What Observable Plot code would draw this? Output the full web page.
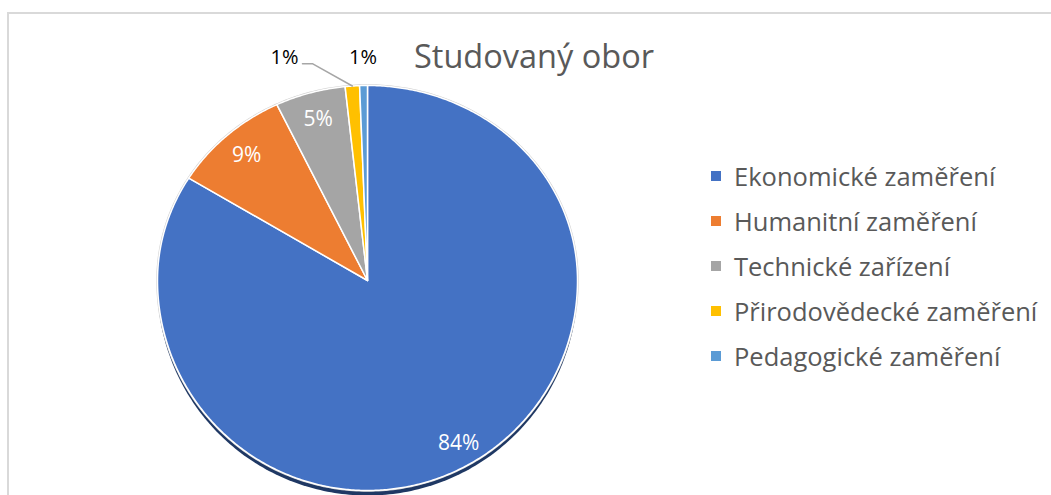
<!DOCTYPE html>
<html><head><meta charset="utf-8">
<script src="https://cdn.jsdelivr.net/npm/d3@7"></script>
<script src="https://cdn.jsdelivr.net/npm/@observablehq/plot@0.6"></script>
<style>
body{margin:0;background:#fff;overflow:hidden;font-family:"Open Sans",sans-serif;}
#wrap{position:relative;width:1051px;height:495px;overflow:hidden;}
#frame{position:absolute;left:7px;top:12px;width:1100px;height:600px;border:2px solid #d9d9d9;box-sizing:border-box;}
#title{position:absolute;left:414px;top:40px;font-size:32.5px;line-height:1;color:#595959;white-space:nowrap;}
#legend{position:absolute;left:711px;top:153px;}
.row{height:45px;display:flex;align-items:center;font-size:25.5px;color:#595959;white-space:nowrap;}
.sw{width:10px;height:10px;margin-right:13px;flex:none;}
#chart{position:absolute;left:0;top:0;width:1051px;height:495px;}
#chart svg{max-width:none;}
</style></head>
<body>
<div id="wrap">
  <div id="frame"></div>
  <div id="chart"></div>
  <div id="title">Studovaný obor</div>
  <div id="legend"></div>
</div>
<script>
const categories = ["Ekonomické zaměření","Humanitní zaměření","Technické zařízení","Přirodovědecké zaměření","Pedagogické zaměření"];
const shares = [83.8, 9.1, 5.4, 1.1, 0.6];
const colors = ["#4472C4","#ED7D31","#A5A5A5","#FFC000","#5B9BD5"];
const titleText = "Studovaný obor";

const total = d3.sum(shares);
const toRad = Math.PI / 180;
const polar = (deg, r) => ({x: Math.sin(deg * toRad) * r, y: Math.cos(deg * toRad) * r});

// slices
const slicePts = [];
const slices = [];
let acc = 0;
shares.forEach((v, i) => {
  const a0 = acc / total * 360, a1 = (acc + v) / total * 360;
  acc += v;
  slices.push({cat: categories[i], v, a0, a1, mid: (a0 + a1) / 2});
  slicePts.push({cat: categories[i], ...polar(0, 0)});
  const n = Math.max(2, Math.ceil((a1 - a0) / 0.5));
  for (let k = 0; k <= n; k++) slicePts.push({cat: categories[i], ...polar(a0 + (a1 - a0) * k / n, 1)});
});
const ring = d3.range(0, 361, 1).map(a => polar(a, 1));

// labels
const inner = slices.filter(s => s.v >= 2).map(s => ({...polar(s.mid, s.v > 50 ? 0.89 : 0.86), text: Math.round(s.v) + "%"}));
const outerSlices = slices.filter(s => s.v < 2);
const outer = [];
const leaders = [];
outerSlices.forEach((s, j) => {
  const base = polar(s.mid, 1.13);
  const shift = (outerSlices.length - 1 - j) * 0.314;
  const lab = {x: base.x - shift, y: base.y + 0.015, text: Math.round(s.v) + "%"};
  outer.push(lab);
  if (shift > 0) {
    const edge = polar(s.mid, 1.0);
    leaders.push({id: j, x: lab.x + 0.086, y: lab.y - 0.03});
    leaders.push({id: j, x: lab.x + 0.133, y: lab.y - 0.03});
    leaders.push({id: j, ...edge});
  }
});

const chart = Plot.plot({
  width: 1051, height: 495, margin: 0,
  style: {background: "transparent", overflow: "visible", maxWidth: "none"},
  x: {type: "linear", axis: null, domain: [-1, 1], range: [157, 577]},
  y: {type: "linear", axis: null, domain: [-1, 0, 1], range: [490, 280, 85]},
  color: {domain: categories, range: colors},
  marks: [
    Plot.line(ring, {x: "x", y: "y", fill: "#1f3864", stroke: "none", curve: "linear-closed", dy: 5}),
    Plot.line(ring, {x: "x", y: "y", fill: "none", stroke: "#d0d0d0", strokeWidth: 2.5, curve: "linear-closed"}),
    Plot.line(slicePts, {x: "x", y: "y", z: "cat", fill: "cat", stroke: "white", strokeWidth: 1.5, strokeLinejoin: "round", curve: "linear-closed"}),
    Plot.line(leaders, {x: "x", y: "y", z: "id", stroke: "#a6a6a6", strokeWidth: 1.5}),
    Plot.text(inner, {x: "x", y: "y", text: "text", fill: "white", fontSize: 21, fontFamily: "Open Sans"}),
    Plot.text(outer, {x: "x", y: "y", text: "text", fill: "#000", fontSize: 20, fontFamily: "Open Sans"})
  ]
});
document.getElementById("chart").appendChild(chart);

const leg = document.getElementById("legend");
categories.forEach((c, i) => {
  const row = document.createElement("div");
  row.className = "row";
  const sw = document.createElement("div");
  sw.className = "sw"; sw.style.background = colors[i];
  const t = document.createElement("span");
  t.textContent = c;
  row.appendChild(sw); row.appendChild(t);
  leg.appendChild(row);
});
document.getElementById("title").textContent = titleText;
</script>
</body></html>
